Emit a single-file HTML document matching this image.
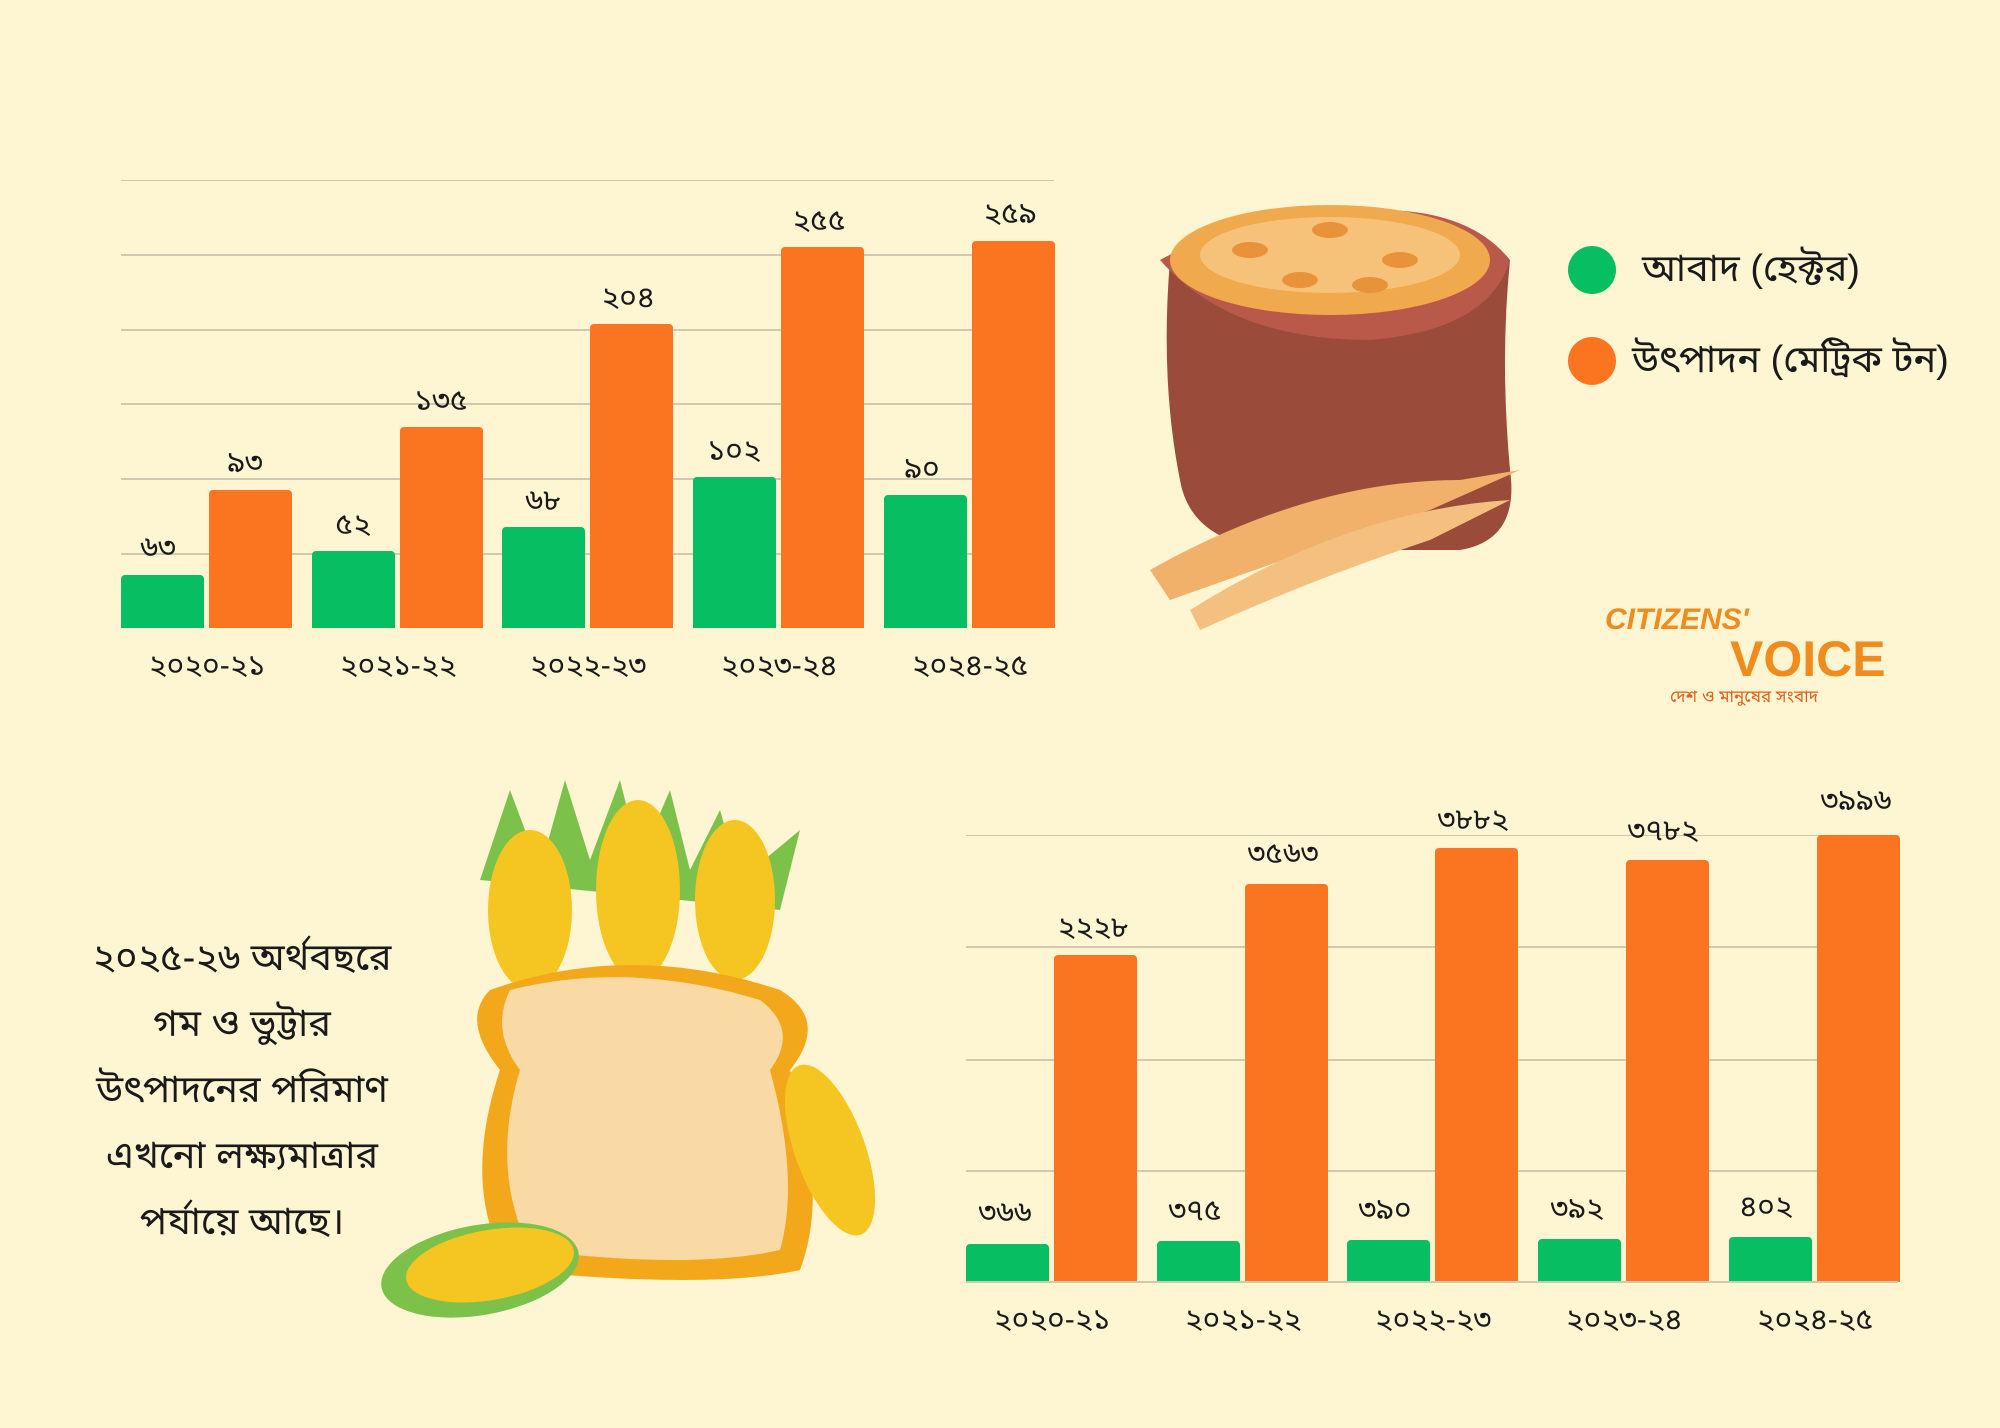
<!DOCTYPE html>
<html><head><meta charset="utf-8"><style>
body{margin:0;width:2000px;height:1428px;background:#fef6d3;position:relative;overflow:hidden;font-family:"Liberation Sans","Noto Sans Bengali","Lohit Bengali",sans-serif;color:#1a1a1a}
.a{position:absolute}
.lbl{position:absolute;font-size:30px;text-align:center;width:160px;margin-left:-80px}
.grid{position:absolute;height:2px;background:#cfc9b0}
.g{position:absolute;background:#07be62;border-radius:4px 4px 0 0}
.o{position:absolute;background:#fb7420;border-radius:4px 4px 0 0}
.txt{position:absolute;left:42px;width:400px;text-align:center;font-size:38px;line-height:66px;top:925px}
</style></head><body>
<!-- top chart -->
<div class="grid" style="left:121px;width:933px;top:180px;height:1px"></div>
<div class="grid" style="left:121px;width:933px;top:254px"></div>
<div class="grid" style="left:121px;width:933px;top:329px"></div>
<div class="grid" style="left:121px;width:933px;top:403px"></div>
<div class="grid" style="left:121px;width:933px;top:478px"></div>
<div class="grid" style="left:121px;width:933px;top:553px"></div>
<div class="g" style="left:121px;width:83px;top:575px;height:53px"></div>
<div class="o" style="left:209px;width:83px;top:490px;height:138px"></div>
<div class="g" style="left:312px;width:83px;top:551px;height:77px"></div>
<div class="o" style="left:400px;width:83px;top:427px;height:201px"></div>
<div class="g" style="left:502px;width:83px;top:527px;height:101px"></div>
<div class="o" style="left:590px;width:83px;top:324px;height:304px"></div>
<div class="g" style="left:693px;width:83px;top:477px;height:151px"></div>
<div class="o" style="left:781px;width:83px;top:247px;height:381px"></div>
<div class="g" style="left:884px;width:83px;top:495px;height:133px"></div>
<div class="o" style="left:972px;width:83px;top:241px;height:387px"></div>
<div class="lbl" style="left:158px;top:530px">৬৩</div>
<div class="lbl" style="left:245px;top:445px">৯৩</div>
<div class="lbl" style="left:353px;top:507px">৫২</div>
<div class="lbl" style="left:441px;top:383px">১৩৫</div>
<div class="lbl" style="left:543px;top:483px">৬৮</div>
<div class="lbl" style="left:628px;top:280px">২০৪</div>
<div class="lbl" style="left:734px;top:433px">১০২</div>
<div class="lbl" style="left:819px;top:203px">২৫৫</div>
<div class="lbl" style="left:922px;top:451px">৯০</div>
<div class="lbl" style="left:1010px;top:196px">২৫৯</div>
<div class="lbl" style="left:207px;top:648px">২০২০-২১</div>
<div class="lbl" style="left:398px;top:648px">২০২১-২২</div>
<div class="lbl" style="left:588px;top:648px">২০২২-২৩</div>
<div class="lbl" style="left:779px;top:648px">২০২৩-২৪</div>
<div class="lbl" style="left:970px;top:648px">২০২৪-২৫</div>
<!-- legend -->
<div class="a" style="left:1568px;top:246px;width:48px;height:48px;border-radius:50%;background:#07be62"></div>
<div class="a" style="left:1568px;top:337px;width:48px;height:48px;border-radius:50%;background:#fb7420"></div>
<div class="a" style="left:1642px;top:246px;font-size:38px">আবাদ (হেক্টর)</div>
<div class="a" style="left:1632px;top:337px;font-size:38px">উৎপাদন (মেট্রিক টন)</div>
<!-- wheat sack -->
<svg class="a" style="left:1130px;top:180px" width="520" height="480">
<path d="M40 80 Q30 200 50 300 Q60 360 140 370 L330 370 Q390 360 380 290 Q370 180 380 80 Z" fill="#9b4b3a"/>
<path d="M30 80 Q140 20 250 30 Q340 30 380 80 Q360 150 240 160 Q100 160 30 80Z" fill="#b9594a"/>
<ellipse cx="200" cy="80" rx="160" ry="55" fill="#f1a94e"/>
<ellipse cx="200" cy="75" rx="130" ry="38" fill="#f6c27a"/>
<g fill="#e8923a"><ellipse cx="120" cy="70" rx="18" ry="8"/><ellipse cx="200" cy="50" rx="18" ry="8"/><ellipse cx="270" cy="80" rx="18" ry="8"/><ellipse cx="170" cy="100" rx="18" ry="8"/><ellipse cx="240" cy="105" rx="18" ry="8"/></g>
<path d="M20 390 Q180 300 330 300 L390 290 L300 330 Q180 370 40 420Z" fill="#f1b16a"/>
<path d="M60 430 Q220 330 380 320 L300 360 Q180 400 70 450Z" fill="#f4c07f"/>
</svg>
<!-- logo -->
<div class="a" style="left:1605px;top:603px;font-size:30px;font-style:italic;font-weight:bold;color:#f08b1d">CITIZENS'</div>
<div class="a" style="left:1730px;top:630px;font-size:50px;font-weight:bold;color:#f08b1d">VOICE</div>
<div class="a" style="left:1670px;top:686px;font-size:17px;color:#e0611a">দেশ ও মানুষের সংবাদ</div>
<!-- text -->
<div class="txt">২০২৫-২৬ অর্থবছরে<br>গম ও ভুট্টার<br>উৎপাদনের পরিমাণ<br>এখনো লক্ষ্যমাত্রার<br>পর্যায়ে আছে।</div>
<!-- corn -->
<svg class="a" style="left:360px;top:780px" width="560" height="570">
<g transform="translate(0,10)">
<path d="M120 90 L150 0 L180 80 L205 -10 L230 70 L260 -10 L280 70 L310 0 L330 80 L360 20 L380 90 L440 40 L420 120Z" fill="#7cc24a"/>
<ellipse cx="170" cy="120" rx="42" ry="80" fill="#f5c521"/>
<ellipse cx="278" cy="100" rx="42" ry="90" fill="#f5c521"/>
<ellipse cx="375" cy="110" rx="40" ry="80" fill="#f5c521"/>
<path d="M130 200 Q270 150 420 200 Q470 230 430 280 Q470 400 440 480 Q350 500 150 480 Q100 400 140 280 Q100 230 130 200Z" fill="#f3a81c"/>
<path d="M150 200 Q270 170 400 210 Q440 240 410 280 Q440 390 420 460 Q330 480 170 460 Q130 380 160 280 Q130 240 150 200Z" fill="#f9d9a4"/>
<ellipse cx="470" cy="360" rx="35" ry="90" fill="#f5c521" transform="rotate(-20 470 360)"/>
<ellipse cx="120" cy="480" rx="100" ry="45" fill="#7cc24a" transform="rotate(-10 120 480)"/>
<ellipse cx="130" cy="475" rx="85" ry="35" fill="#f5c521" transform="rotate(-10 130 475)"/>
</g>
</svg>
<!-- bottom chart -->
<div class="grid" style="left:966px;width:932px;top:835px;height:1px"></div>
<div class="grid" style="left:966px;width:932px;top:946px"></div>
<div class="grid" style="left:966px;width:932px;top:1059px"></div>
<div class="grid" style="left:966px;width:932px;top:1170px"></div>
<div class="g" style="left:966px;width:83px;top:1244px;height:38px"></div>
<div class="o" style="left:1054px;width:83px;top:955px;height:327px"></div>
<div class="g" style="left:1157px;width:83px;top:1241px;height:41px"></div>
<div class="o" style="left:1245px;width:83px;top:884px;height:398px"></div>
<div class="g" style="left:1347px;width:83px;top:1240px;height:42px"></div>
<div class="o" style="left:1435px;width:83px;top:848px;height:434px"></div>
<div class="g" style="left:1538px;width:83px;top:1239px;height:43px"></div>
<div class="o" style="left:1626px;width:83px;top:860px;height:422px"></div>
<div class="g" style="left:1729px;width:83px;top:1237px;height:45px"></div>
<div class="o" style="left:1817px;width:83px;top:835px;height:447px"></div>
<div class="a" style="left:966px;width:932px;top:1281px;height:2px;background:#cfc9b0"></div>
<div class="lbl" style="left:1005px;top:1195px">৩৬৬</div>
<div class="lbl" style="left:1093px;top:910px">২২২৮</div>
<div class="lbl" style="left:1195px;top:1193px">৩৭৫</div>
<div class="lbl" style="left:1283px;top:836px">৩৫৬৩</div>
<div class="lbl" style="left:1385px;top:1192px">৩৯০</div>
<div class="lbl" style="left:1473px;top:802px">৩৮৮২</div>
<div class="lbl" style="left:1577px;top:1191px">৩৯২</div>
<div class="lbl" style="left:1663px;top:813px">৩৭৮২</div>
<div class="lbl" style="left:1766px;top:1189px">৪০২</div>
<div class="lbl" style="left:1856px;top:783px">৩৯৯৬</div>
<div class="lbl" style="left:1052px;top:1302px">২০২০-২১</div>
<div class="lbl" style="left:1243px;top:1302px">২০২১-২২</div>
<div class="lbl" style="left:1433px;top:1302px">২০২২-২৩</div>
<div class="lbl" style="left:1624px;top:1302px">২০২৩-২৪</div>
<div class="lbl" style="left:1815px;top:1302px">২০২৪-২৫</div>
</body></html>
